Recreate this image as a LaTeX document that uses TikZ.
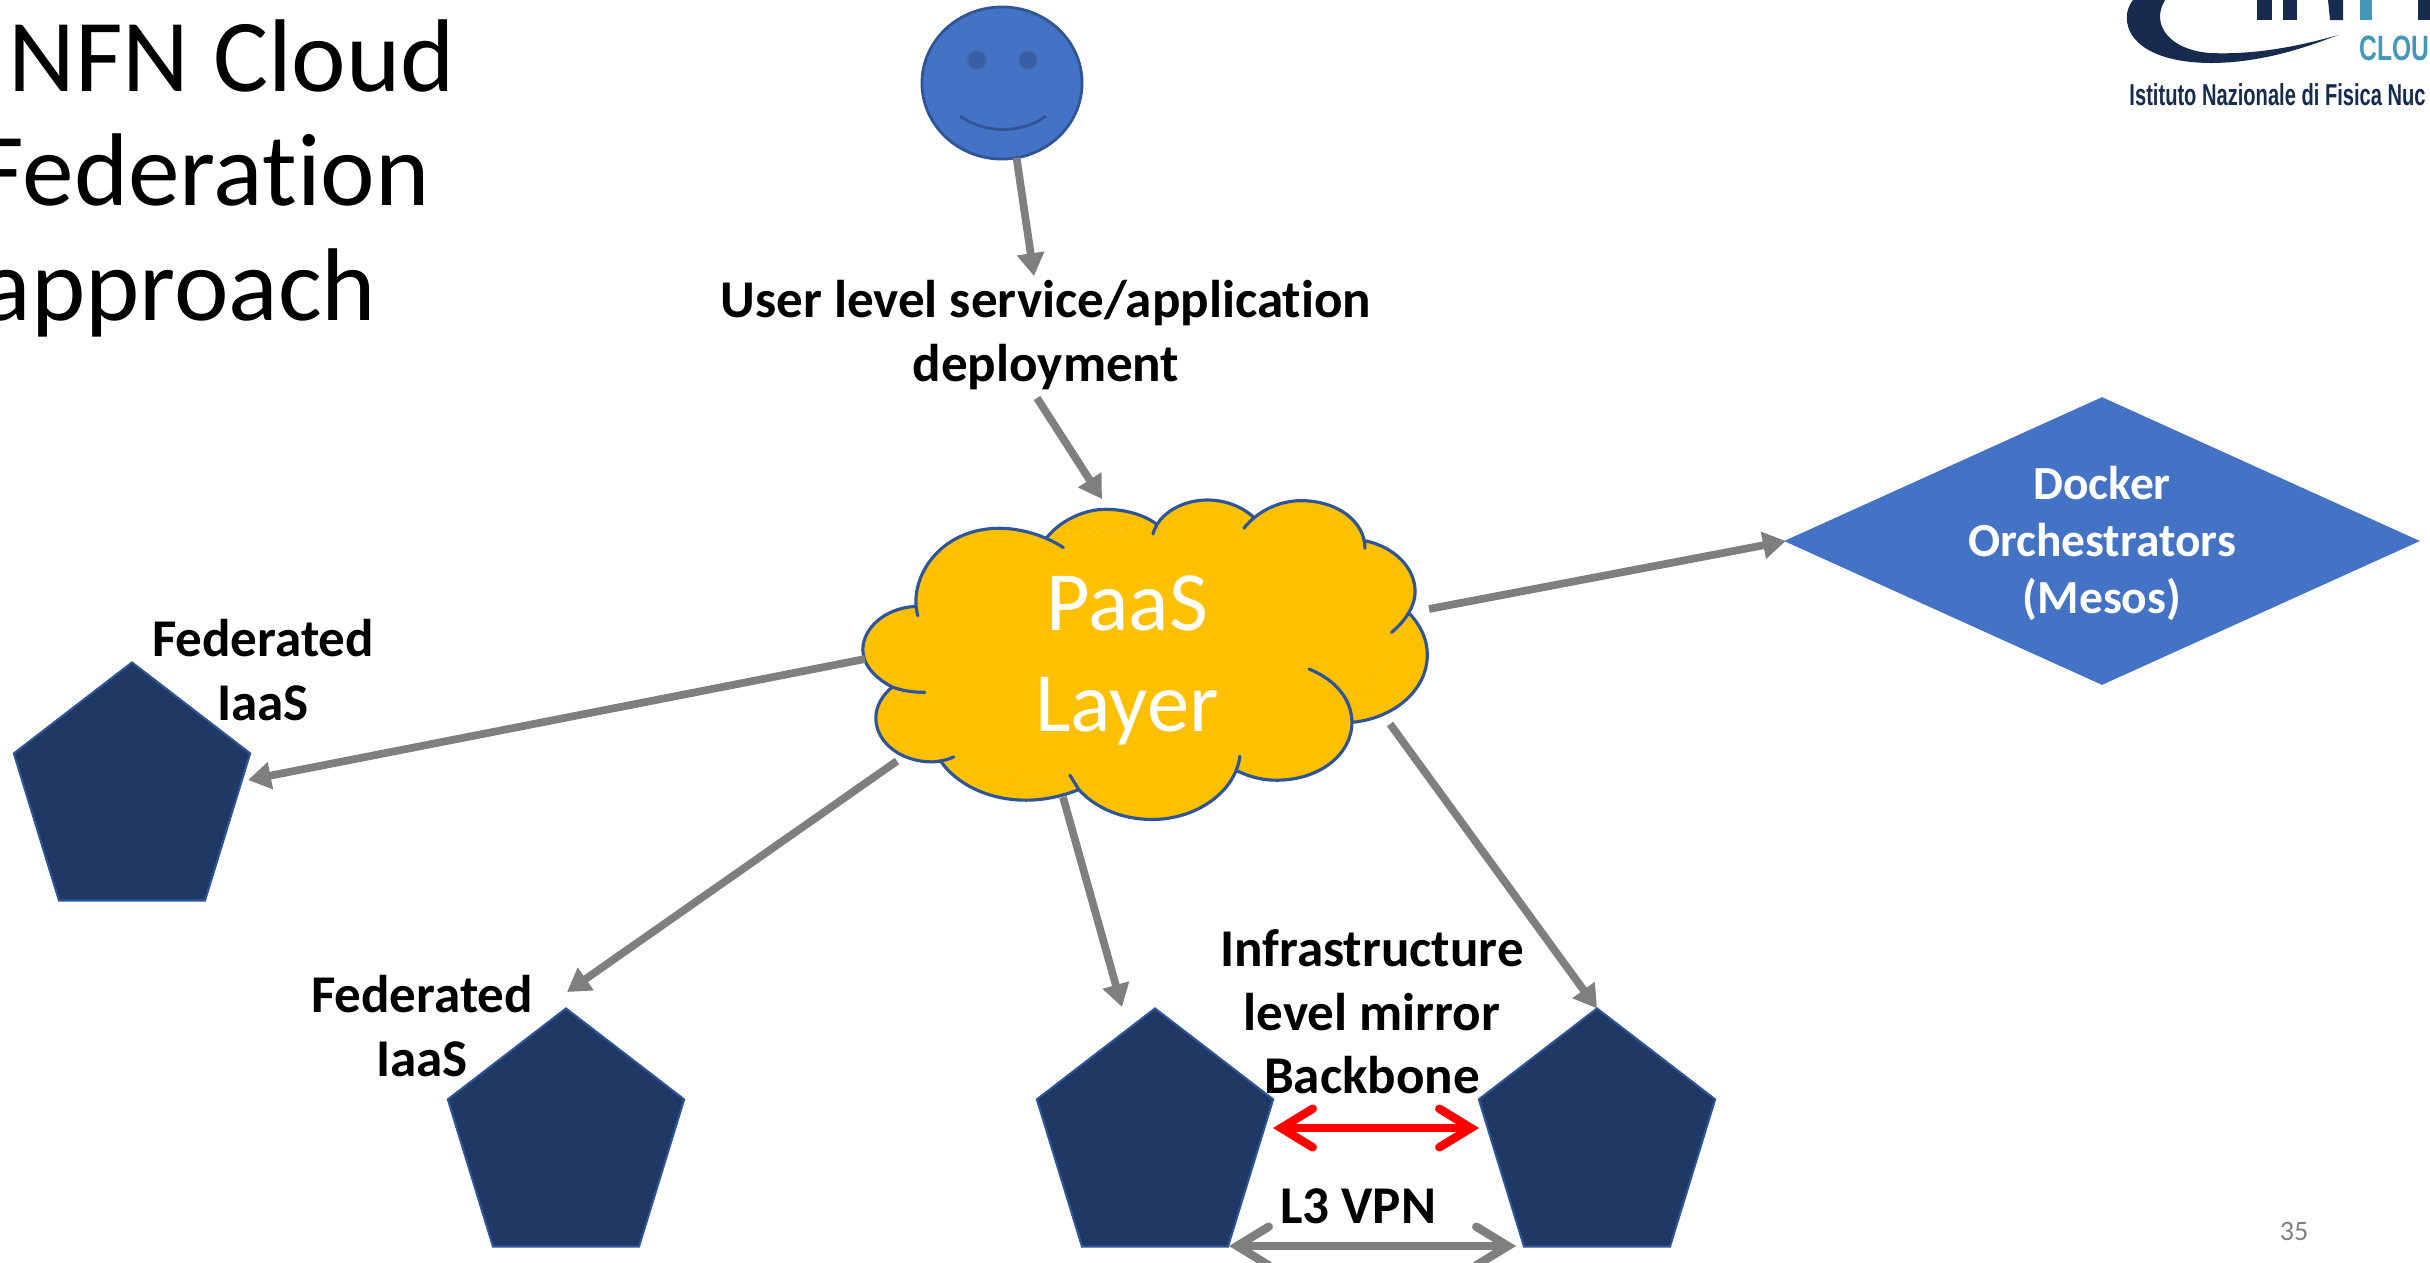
\documentclass[tikz,border=0pt]{standalone}
\usepackage{fontspec}
\setmainfont[Ligatures=NoCommon]{Carlito}
\newfontfamily\logofont{Liberation Sans}
\usetikzlibrary{arrows.meta,shapes.geometric,calc}
\definecolor{navy}{HTML}{1F3864}
\definecolor{edgeblue}{HTML}{2F5597}
\definecolor{faceblue}{HTML}{4472C4}
\definecolor{eyeblue}{HTML}{375FA5}
\definecolor{cloudy}{HTML}{FFC000}
\definecolor{arrgray}{HTML}{7F7F7F}
\definecolor{logonavy}{HTML}{172B4F}
\definecolor{logoteal}{HTML}{4397BB}
\tikzset{
  penta/.style={regular polygon,regular polygon sides=5,draw=edgeblue,fill=navy,line width=.6pt,
    minimum size=2.63cm,inner sep=0pt,outer sep=0pt,xscale=.944,transform shape},
  lab/.style={font=\fontsize{15.1}{18.1}\selectfont\bfseries,align=center,inner sep=0pt,text=black},
  titletxt/.style={font=\fontsize{29.4}{36}\selectfont,anchor=base west,inner sep=0pt,text=black},
  link/.style={draw=arrgray,line width=2.2pt,-{Triangle[length=6.5pt,width=7.5pt]}},
  redlink/.style={draw=red,line width=2.4pt,line cap=round,{Straight Barb[length=9pt,width=11pt,line cap=round]}-{Straight Barb[length=9pt,width=11pt,line cap=round]}},
  graylink/.style={draw=arrgray,line width=2.4pt,line cap=round,{Straight Barb[length=9pt,width=11pt,line cap=round]}-{Straight Barb[length=9pt,width=11pt,line cap=round]}},
  cloudline/.style={draw=edgeblue,line width=.9pt,line cap=round,line join=round},
}
\newcommand{\lobeA}{(240,408) .. controls (215,300) and (290,145) .. (440,145) .. controls (490,145) and (550,165) .. (597,203)}
\newcommand{\lobeB}{(555,175) .. controls (590,120) and (650,88) .. (700,88) .. controls (750,88) and (795,105) .. (825,132)}
\newcommand{\lobeC}{(817,162) .. controls (830,100) and (890,60) .. (950,60) .. controls (1000,60) and (1040,85) .. (1062,110)}
\newcommand{\lobeD}{(1040,145) .. controls (1075,90) and (1130,62) .. (1180,62) .. controls (1270,62) and (1337,125) .. (1337,205)}
\newcommand{\lobeE}{(1335,182) .. controls (1410,200) and (1460,265) .. (1460,335) .. controls (1460,385) and (1430,430) .. (1402,458)}
\newcommand{\lobeF}{(1447,402) .. controls (1475,440) and (1490,480) .. (1490,525) .. controls (1490,630) and (1410,715) .. (1307,728)}
\newcommand{\lobeG}{(1200,568) .. controls (1265,600) and (1305,660) .. (1305,728) .. controls (1305,825) and (1225,902) .. (1120,902) .. controls (1085,902) and (1055,892) .. (1025,875)}
\newcommand{\lobeH}{(1030,830) .. controls (1020,935) and (925,1020) .. (815,1020) .. controls (740,1020) and (675,985) .. (635,930) .. controls (627,915) and (620,900) .. (613,887)}
\newcommand{\lobeI}{(635,930) .. controls (595,950) and (550,962) .. (505,962) .. controls (415,962) and (335,915) .. (295,843)}
\newcommand{\lobeJ}{(328,832) .. controls (310,842) and (290,847) .. (275,847) .. controls (200,847) and (137,790) .. (137,715) .. controls (137,680) and (152,648) .. (177,622)}
\newcommand{\lobeK}{(257,638) .. controls (225,638) and (200,632) .. (177,622) .. controls (135,595) and (105,555) .. (105,510) .. controls (105,445) and (160,385) .. (232,380)}
\begin{document}
\begin{tikzpicture}[x=.01cm,y=-.01cm]
\useasboundingbox (0,0) rectangle (2430,1262);
% title
\node[titletxt] (t1) at (8,91) {NFN Cloud};
\node[titletxt] (t2) at (-24,205) {Federation};
\node[titletxt] (t3) at (-19,320) {approach};
% logo
\fill[logonavy] (2133,0) .. controls (2118,18) and (2125,62) .. (2210,63)
   .. controls (2260,63) and (2305,48) .. (2338,35)
   .. controls (2300,46) and (2255,55) .. (2210,53)
   .. controls (2170,50) and (2150,25) .. (2165,0) -- cycle;
\fill[logonavy] (2257,0) rectangle (2272,20);
\fill[logonavy] (2283,0) rectangle (2297,20);
\fill[logonavy] (2328,0) -- (2343,0) -- (2343,20) -- (2330,20) -- cycle;
\fill[logoteal] (2360,0) rectangle (2372,20);
\fill[logonavy] (2418,0) rectangle (2430,20);
\node[font=\logofont\bfseries\fontsize{10}{12}\selectfont,text=logoteal,anchor=base west,inner sep=0pt,xscale=.70,transform shape] (logoa) at (2359,60) {CLOU};
\node[font=\logofont\bfseries\fontsize{8.6}{10}\selectfont,text=logonavy,anchor=base west,inner sep=0pt,xscale=.665,transform shape] (logob) at (2129,105) {Istituto Nazionale di Fisica Nuc};
% face
\node[ellipse,draw=edgeblue,fill=faceblue,line width=.8pt,minimum width=1.6cm,minimum height=1.52cm,inner sep=0pt,outer sep=0pt] (face) at (1002,83) {};
\fill[eyeblue,draw=edgeblue!90,line width=.4pt] (977,60) circle (9);
\fill[eyeblue,draw=edgeblue!90,line width=.4pt] (1028,60) circle (9);
\draw[edgeblue,line width=.8pt] (960,116) .. controls (985,134) and (1022,134) .. (1046,116);
% cloud
\begin{scope}[shift={(820,480)},x=.00408cm,y=-.00333cm]
  \fill[cloudy] (232,380)--(555,175)--(825,132)--(1062,110)--(1335,182)--(1447,402)--(1307,728)--(1025,875)--(635,930)--(295,843)--(177,622)--cycle;
  \foreach \lob in {\lobeA,\lobeB,\lobeC,\lobeD,\lobeE,\lobeF,\lobeG,\lobeH,\lobeI,\lobeJ,\lobeK}{
    \fill[cloudy] \lob -- cycle;}
  \foreach \lob in {\lobeA,\lobeB,\lobeC,\lobeD,\lobeE,\lobeF,\lobeG,\lobeH,\lobeI,\lobeJ,\lobeK}{
    \draw[cloudline] \lob;}
\end{scope}
\node[font=\fontsize{24}{28.7}\selectfont,text=white,align=center,inner sep=0pt] (paas) at (1127,660) {PaaS\\Layer};
% pentagons
\node[penta] (p1) at (132,794) {};
\node[penta] (p2) at (566,1140) {};
\node[penta] (p3) at (1155,1140) {};
\node[penta] (p4) at (1597,1140) {};
% diamond
\node[diamond,fill=faceblue,draw=faceblue,line width=.4pt,minimum width=6.32cm,minimum height=2.86cm,inner sep=0pt,outer sep=0pt] (dock) at (2102,541) {};
\node[font=\fontsize{13.5}{16.2}\selectfont\bfseries,text=white,align=center,inner sep=0pt] (docklab) at (2102,543) {Docker\\Orchestrators\\(Mesos)};
% labels
\node[lab] (user) at (1046,335) {User level service/application\\deployment};
\node[lab] (f1) at (263,670) {Federated\\IaaS};
\node[lab] (f2) at (422,1026) {Federated\\IaaS};
\node[lab] (infra) at (1372,1012) {Infrastructure\\level mirror\\Backbone};
\node[lab] (vpn) at (1358,1206) {L3 VPN};
\node[font=\fontsize{8}{10}\selectfont,text=black!50,inner sep=0pt] (pnum) at (2294,1231) {35};
% connector ends
\coordinate (userin) at (1034,276);
\coordinate (userout) at (1037,398);
\coordinate (cloudin) at (1102,499);
\coordinate (cloudE) at (1429,609);
\coordinate (cloudW) at (865,659);
\coordinate (cloudSW) at (897,761);
\coordinate (cloudS) at (1063,797);
\coordinate (cloudSE) at (1390,724);
\coordinate (p1in) at (248,780);
\coordinate (p2in) at (567,992);
\coordinate (p3in) at (1122,1007);
\coordinate (redL) at (1273,1128);
\coordinate (redR) at (1479,1128);
\coordinate (vpnL) at (1229,1246);
\coordinate (vpnR) at (1516,1246);
% connectors
\draw[link] (face.-79) -- (userin);
\draw[link] (userout) -- (cloudin);
\draw[link] (cloudE) -- (dock.west);
\draw[link] (cloudW) -- (p1in);
\draw[link] (cloudSW) -- (p2in);
\draw[link] (cloudS) -- (p3in);
\draw[link] (cloudSE) -- (p4.corner 1);
\draw[redlink] (redL) -- (redR);
\draw[graylink] (vpnL) -- (vpnR);
\end{tikzpicture}
\end{document}
